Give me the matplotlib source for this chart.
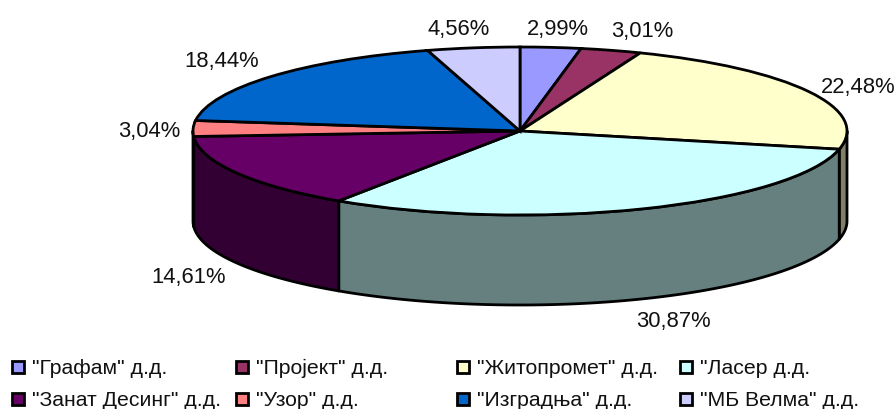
# -*- coding: utf-8 -*-
import numpy as np
import matplotlib
matplotlib.use("Agg")
import matplotlib.pyplot as plt
from matplotlib.patches import Rectangle

plt.rcParams['font.family'] = ['Liberation Sans', 'DejaVu Sans']

# Податоци
firme = ['"Графам" д.д.', '"Пројект" д.д.', '"Житопромет" д.д.', '"Ласер д.д.',
         '"Занат Десинг" д.д.', '"Узор" д.д.', '"Изградња" д.д.', '"МБ Велма" д.д.']
udeli = [2.99, 3.01, 22.48, 30.87, 14.61, 3.04, 18.44, 4.56]
natpisi = ['2,99%', '3,01%', '22,48%', '30,87%', '14,61%', '3,04%', '18,44%', '4,56%']
boje = ['#9999ff', '#993366', '#ffffcc', '#ccffff', '#660066', '#ff8080', '#0066cc', '#ccccff']
boje_strana = ['#4d4d80', '#4d1a33', '#808066', '#668080', '#330033', '#804040', '#003366', '#666680']

# Raspored u pikselima
W, H = 895, 409
cx, cy, rx, ry = 520, 131, 327, 84
dubina = 90
poz_natpisa = [(558, 29), (642, 31), (858, 87), (673, 321),
               (189, 277), (149, 131), (222, 61), (459, 29)]
kolone = [12, 236, 457, 680]
redovi = [368, 400]

fig = plt.figure(figsize=(W / 100, H / 100), dpi=100)

# Osa u jedinicama kruga: poluprecnik 1, elipsa nastaje iz razmere ose
ax = fig.add_axes([0, 0, 1, 1])
granice = np.cumsum([0] + udeli) / sum(udeli) * 360
d = dubina / ry

# Bocne strane, vidljive samo na prednjoj polovini
for i in range(len(udeli)):
    a = max(granice[i], 90)
    b = min(granice[i + 1], 270)
    if a >= b:
        continue
    t = np.radians(np.linspace(a, b, 100))
    x = np.sin(t)
    y = np.cos(t)
    ax.fill(np.r_[x, x[::-1]], np.r_[y, y[::-1] - d],
            facecolor=boje_strana[i], edgecolor='black', linewidth=2, joinstyle='round')

# Gornja povrsina
ax.pie(udeli, colors=boje, startangle=90, counterclock=False, radius=1, center=(0, 0),
       wedgeprops={'edgecolor': 'black', 'linewidth': 2})
ax.set_aspect('auto')
ax.set_xlim(-cx / rx, (W - cx) / rx)
ax.set_ylim((cy - H) / ry, cy / ry)
ax.axis('off')

# Natpisi
for tekst, (px, py) in zip(natpisi, poz_natpisa):
    fig.text(px / W, 1 - py / H, tekst, fontsize=15.8, color='#111111', ha='center', va='center')

# Legenda
lax = fig.add_axes([0, 0, 1, 1], facecolor='none')
lax.set_xlim(0, W)
lax.set_ylim(H, 0)
lax.axis('off')
for i, naziv in enumerate(firme):
    x0 = kolone[i % 4]
    y0 = redovi[i // 4]
    lax.add_patch(Rectangle((x0, y0 - 7), 12, 12, facecolor=boje[i], edgecolor='black', linewidth=2))
    lax.text(x0 + 20, y0, naziv, fontsize=15.3, color='#111111', ha='left', va='center')

fig.savefig('out.png', dpi=100)
